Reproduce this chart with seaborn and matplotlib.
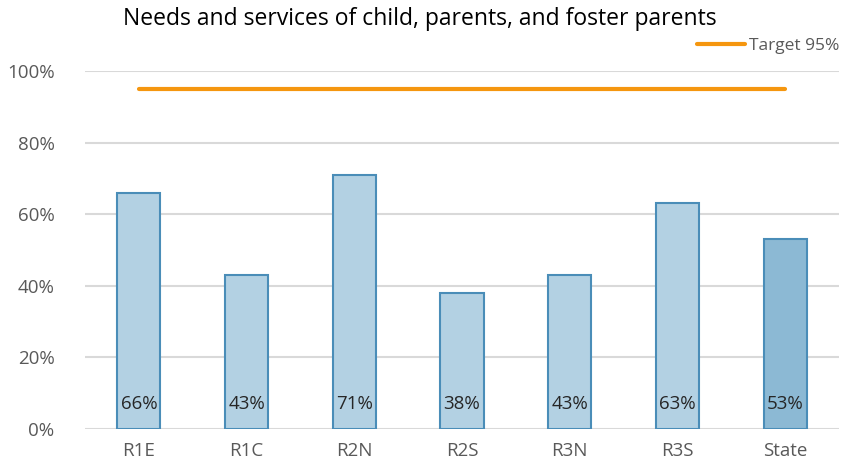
import matplotlib
matplotlib.use("Agg")
import matplotlib.pyplot as plt
import seaborn as sns
import numpy as np

categories = ["R1E", "R1C", "R2N", "R2S", "R3N", "R3S", "State"]
values = [0.66, 0.43, 0.71, 0.38, 0.43, 0.63, 0.53]
labels = ["66%", "43%", "71%", "38%", "43%", "63%", "53%"]
target = [0.95] * 7
yticks = [0, 0.2, 0.4, 0.6, 0.8, 1.0]
ytick_labels = ["0%", "20%", "40%", "60%", "80%", "100%"]

sns.set_theme(style="white")
plt.rcParams["font.family"] = ["Open Sans", "DejaVu Sans"]

fig = plt.figure(figsize=(8.56, 4.72), dpi=100)
ax = fig.add_axes([85/856, 1-429/472, (839-85)/856, (429-71)/472])

colors = ["#B3D1E3"] * 6 + ["#8CB9D4"]
sns.barplot(x=categories, y=values, hue=categories, palette=colors, legend=False,
            width=0.4, edgecolor="#4A8DB8", linewidth=1.5, ax=ax, zorder=3, saturation=1)

ax.plot(range(len(categories)), target, color="#F5960F", linewidth=3, solid_capstyle="round",
        zorder=4, label="Target 95%")

for i, lab in enumerate(labels):
    ax.text(i, 0.07, lab, ha="center", va="center", fontsize=13.5, color="#262626", zorder=5)

ax.set_ylim(0, 1.0)
ax.set_xlim(-0.5, len(categories) - 0.5)
ax.set_yticks(yticks)
ax.set_yticklabels(ytick_labels)
ax.tick_params(axis="y", labelsize=13.5, labelcolor="#595959", length=0, pad=22)
ax.tick_params(axis="x", labelsize=13.5, labelcolor="#595959", length=0, pad=9)
ax.yaxis.grid(True, color="#D9D9D9", linewidth=1.5, zorder=0)
ax.set_axisbelow(True)
for s in ax.spines.values():
    s.set_visible(False)
ax.set_xlabel("")
ax.set_ylabel("")

fig.text(0.491, 1-19/472, "Needs and services of child, parents, and foster parents",
         ha="center", va="center", fontsize=16.5, color="black",
         family=["Open Sans", "DejaVu Sans"])

leg = fig.legend(loc="center right", bbox_to_anchor=(846/856, 1-46/472), frameon=False,
                 fontsize=12.5, handlelength=2.8, handletextpad=0.2, borderaxespad=0)
for t in leg.get_texts():
    t.set_color("#595959")

fig.savefig("out.png", dpi=100)
